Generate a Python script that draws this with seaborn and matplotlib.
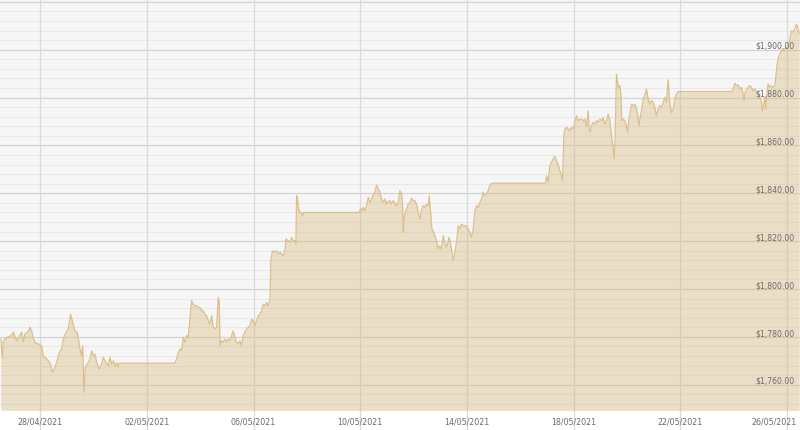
import numpy as np
import pandas as pd
import matplotlib
matplotlib.use("Agg")
import matplotlib.pyplot as plt
import seaborn as sns
from matplotlib.transforms import offset_copy

# ---- data: hours since 2021-04-26 00:00 and gold price (USD/oz) ----
hours = [
    12.6, 13.8, 14.7, 16.2, 18.9, 22.5, 23.7, 26.7, 28.8, 31.2, 32.7, 34.2, 37.2, 38.7, 40.2, 41.7,
    43.2, 47.7, 49.2, 50.7, 53.7, 56.7, 58.8, 60.3, 62.7, 65.1, 67.2, 68.7, 71.7, 73.2, 75.3, 77.1,
    79.2, 81.3, 83.7, 85.2, 86.1, 87.3, 88.5, 90.3, 92.7, 94.2, 95.7, 97.2, 98.7, 101.1, 103.2, 104.7,
    107.1, 109.2, 110.7, 112.2, 113.7, 115.2, 116.7, 117.9, 119.1, 169.2,
    170.7, 172.2, 173.7, 175.2, 176.7, 178.2, 179.7, 181.2, 182.7, 184.2, 185.7, 187.2, 188.7, 190.2,
    191.7, 193.2, 194.7, 196.2, 197.7, 199.2, 200.7, 202.2, 203.7, 205.2, 206.7, 208.2, 209.1, 209.7,
    211.2, 212.7, 214.2, 215.7, 217.2, 218.7, 220.2, 221.7, 223.2, 224.7, 226.2, 227.7, 229.2, 230.7,
    232.2, 233.7, 235.2, 236.7, 238.2, 239.7, 241.2, 242.7, 244.2, 245.7, 247.2, 248.7, 250.2, 251.7,
    253.2, 254.7, 255.6, 257.1, 259.2, 260.7, 262.2, 263.7, 265.2, 266.7, 268.2, 269.1, 271.2, 272.7,
    274.2, 275.7, 277.2, 278.1, 278.7, 279.6, 280.5, 281.7, 283.2, 284.1, 285.3, 334.2,
    335.1, 336.3, 337.5, 338.7, 340.2, 341.7, 343.2, 344.7, 346.2, 347.7, 349.2, 350.7, 352.2, 353.7,
    355.2, 356.7, 358.2, 359.7, 361.2, 362.7, 364.2, 365.7, 367.2, 368.7, 370.2, 371.7, 373.2, 374.1,
    374.7, 375.6, 376.5, 377.7, 379.2, 380.7, 382.2, 383.7, 385.2, 386.7, 388.2, 389.7, 391.2, 392.7,
    394.2, 395.7, 397.2, 398.1, 399.3, 400.5, 401.7, 403.2, 404.7, 406.2, 407.7, 409.2, 410.7, 412.2,
    413.7, 416.1, 418.2, 419.7, 421.2, 422.7, 424.2, 425.7, 427.2, 428.7, 431.7, 434.7, 436.2, 437.7,
    439.2, 440.7, 442.2, 443.7, 445.2, 446.7, 448.2, 449.7, 451.2, 452.7, 454.2, 502.7,
    503.7, 505.2, 506.7, 508.2, 509.7, 511.2, 512.7, 514.2, 515.7, 517.2, 518.1, 519.3, 520.2, 521.7,
    523.2, 524.7, 526.2, 527.7, 529.2, 530.7, 532.2, 533.7, 535.2, 536.7, 538.2, 539.7, 541.2, 542.1,
    543.3, 544.2, 545.7, 547.2, 548.7, 550.2, 551.7, 553.2, 554.7, 556.2, 557.7, 559.2, 560.7, 562.2,
    563.7, 564.6, 565.5, 566.7, 567.6, 568.5, 569.7, 570.6, 571.5, 572.7, 574.2, 575.7, 576.6, 577.8,
    578.7, 580.2, 581.7, 583.2, 584.7, 586.2, 587.1, 588.3, 589.5, 590.7, 592.2, 593.7, 595.2, 596.7,
    598.2, 599.7, 601.2, 602.7, 604.2, 605.7, 607.2, 608.7, 610.2, 611.7, 613.2, 614.7, 616.2, 617.7,
    619.2, 620.7, 622.2, 671.0,
    673.2, 674.7, 676.2, 677.7, 679.2, 680.7, 681.6, 682.5, 683.7, 685.2, 686.7, 688.2, 689.7, 691.2,
    692.7, 694.2, 695.7, 697.2, 698.1, 699.3, 700.2, 701.1, 702.3, 703.2, 704.7, 706.2, 707.7, 709.2,
    710.1, 711.3, 712.5, 713.7, 715.2, 716.7, 718.2, 719.7, 721.2, 722.7, 724.2, 725.7, 727.2, 728.7,
    730.2, 731.1,
]
prices = [
    1779.1, 1771.1, 1777.8, 1779.1, 1779.9, 1780.8, 1782.0, 1778.4, 1779.9, 1782.0, 1778.0, 1781.2, 1782.1, 1784.0, 1782.5, 1779.5,
    1777.7, 1776.7, 1776.3, 1772.1, 1770.7, 1769.3, 1765.2, 1766.5, 1769.3, 1773.5, 1774.9, 1779.1, 1782.5, 1783.3, 1789.5, 1786.1,
    1782.5, 1781.9, 1774.9, 1772.1, 1776.3, 1756.8, 1767.3, 1768.6, 1770.7, 1774.2, 1772.1, 1772.8, 1769.3, 1766.5, 1768.6, 1771.4,
    1769.3, 1767.9, 1771.4, 1768.6, 1770.0, 1767.9, 1769.3, 1767.4, 1769.0, 1769.0,
    1770.7, 1773.5, 1774.9, 1774.2, 1779.8, 1777.7, 1780.5, 1779.8, 1787.4, 1795.1, 1793.7, 1793.0, 1793.0, 1792.3,
    1792.3, 1790.9, 1790.9, 1789.5, 1788.8, 1786.7, 1785.3, 1788.8, 1784.0, 1783.3, 1784.0, 1796.5, 1794.4, 1776.3,
    1778.4, 1777.7, 1779.1, 1777.7, 1779.1, 1778.4, 1780.5, 1782.5, 1779.8, 1777.7, 1777.0, 1778.4, 1776.3, 1780.5,
    1781.9, 1783.3, 1784.0, 1784.6, 1787.4, 1786.7, 1784.6, 1786.7, 1788.8, 1789.5, 1790.9, 1793.7, 1793.0, 1794.4,
    1793.0, 1795.1, 1812.5, 1816.0, 1815.3, 1816.0, 1814.6, 1815.3, 1814.6, 1813.9, 1816.0, 1820.9, 1820.2, 1819.5,
    1821.6, 1820.2, 1820.2, 1818.8, 1839.0, 1837.6, 1833.4, 1832.0, 1832.0, 1830.6, 1832.0, 1832.0,
    1832.0, 1833.7, 1832.7, 1834.1, 1832.7, 1834.8, 1838.3, 1836.2, 1837.6, 1839.7, 1840.4, 1843.5, 1841.8, 1840.4,
    1837.6, 1836.2, 1837.6, 1835.5, 1836.5, 1836.9, 1835.5, 1836.9, 1836.2, 1834.8, 1836.2, 1841.1, 1839.7, 1834.8,
    1823.7, 1829.9, 1832.0, 1833.4, 1835.5, 1836.2, 1837.9, 1836.9, 1836.9, 1835.5, 1832.0, 1829.2, 1833.4, 1834.8,
    1834.1, 1835.5, 1834.8, 1839.0, 1832.7, 1825.1, 1824.3, 1822.3, 1820.2, 1816.7, 1818.1, 1816.7, 1822.3, 1819.5,
    1817.4, 1821.6, 1816.7, 1811.8, 1815.3, 1819.5, 1826.4, 1825.1, 1827.1, 1826.4, 1826.4, 1823.7, 1821.6, 1825.1,
    1832.7, 1834.8, 1834.1, 1836.2, 1837.6, 1840.4, 1839.0, 1839.7, 1841.1, 1843.2, 1844.2, 1844.2,
    1847.3, 1844.6, 1851.5, 1852.9, 1854.3, 1855.4, 1853.6, 1852.2, 1849.4, 1847.3, 1845.2, 1864.1, 1866.9, 1867.6,
    1866.9, 1866.1, 1867.6, 1866.9, 1869.7, 1872.4, 1870.3, 1871.0, 1871.0, 1870.3, 1871.0, 1868.2, 1874.5, 1866.9,
    1865.5, 1868.2, 1869.7, 1868.9, 1870.3, 1869.7, 1871.0, 1870.3, 1871.7, 1868.9, 1870.3, 1873.1, 1870.3, 1864.1,
    1858.5, 1854.3, 1864.1, 1889.8, 1886.4, 1884.3, 1885.0, 1881.5, 1870.3, 1871.0, 1870.3, 1868.2, 1865.5, 1871.0,
    1873.1, 1877.3, 1876.6, 1877.3, 1875.2, 1871.7, 1868.2, 1872.4, 1875.2, 1879.4, 1880.8, 1883.6, 1879.4, 1877.3,
    1878.7, 1878.0, 1875.9, 1872.4, 1875.2, 1876.6, 1875.9, 1878.0, 1880.1, 1878.0, 1887.5, 1878.0, 1873.8, 1875.2,
    1879.4, 1881.5, 1882.5, 1882.5,
    1886.0, 1885.0, 1885.4, 1883.6, 1884.3, 1881.5, 1878.7, 1882.2, 1883.2, 1884.5, 1885.0, 1884.3, 1882.9, 1883.6,
    1882.2, 1881.5, 1880.1, 1878.0, 1874.5, 1877.3, 1880.1, 1875.2, 1882.9, 1885.7, 1884.3, 1885.0, 1884.3, 1885.0,
    1888.5, 1894.0, 1896.8, 1898.2, 1899.6, 1900.3, 1900.3, 1901.0, 1901.7, 1904.5, 1907.9, 1907.3, 1908.7, 1910.7,
    1908.7, 1906.6,
]
x_tick_dates = ["2021-04-28", "2021-05-02", "2021-05-06", "2021-05-10",
                "2021-05-14", "2021-05-18", "2021-05-22", "2021-05-26"]
x_tick_labels = ["28/04/2021", "02/05/2021", "06/05/2021", "10/05/2021",
                 "14/05/2021", "18/05/2021", "22/05/2021", "26/05/2021"]
y_label_values = [1760, 1780, 1800, 1820, 1840, 1860, 1880, 1900]

# ---- build frame ----
base = pd.Timestamp("2021-04-26 00:00")
df = pd.DataFrame({"time": base + pd.to_timedelta(hours, unit="h"), "price": prices})

sns.set_theme(style="white")
plt.rcParams["font.family"] = ["DejaVu Sans"]

W, H = 800, 431
fig = plt.figure(figsize=(W / 100, H / 100), dpi=100)
fig.patch.set_facecolor("white")
plot_h = 410.7
ax = fig.add_axes([0, (H - plot_h) / H, 1, plot_h / H])
ax.set_facecolor("#f6f6f6")

y_lo, y_hi = 1749.55, 1921.2
x_lo = base + pd.Timedelta(hours=11.72)
x_hi = base + pd.Timedelta(hours=731.9)

# horizontal grid (minor every $4, major every $20)
for v in np.arange(1752, 1924, 4):
    major = (v % 20 == 0)
    ax.axhline(v, color="#d4d4d4" if major else "#e9e9e9",
               lw=0.9 if major else 0.8, zorder=0.5)

# vertical grid at date ticks, extending below plot
ext = (H - plot_h) / plot_h
for d in x_tick_dates:
    ax.axvline(pd.Timestamp(d), ymin=-ext, ymax=1, color="#dadada", lw=0.9,
               zorder=0.6, clip_on=False)

# area + line
ax.fill_between(df["time"], df["price"], y_lo - 10, color="#d8b472",
                alpha=0.36, lw=0, zorder=2)
sns.lineplot(data=df, x="time", y="price", ax=ax, color="#dcc08a",
             lw=0.9, estimator=None, zorder=3)

ax.set_xlim(x_lo, x_hi)
ax.set_ylim(y_lo, y_hi)
ax.set_xticks([])
ax.set_yticks([])
ax.set_xlabel("")
ax.set_ylabel("")
for s in ax.spines.values():
    s.set_visible(False)

# y labels inside plot on the right
ytrans = offset_copy(ax.get_yaxis_transform(), fig=fig, x=0, y=1.8, units="dots")
for v in y_label_values:
    ax.text(795 / 800, v, f"${v:,.2f}", transform=ytrans, ha="right",
            va="baseline", fontsize=5.6, color="#6a6a6a", zorder=5)

# date labels below plot (last one kept inside the figure edge)
xtrans = ax.get_xaxis_transform()
for i, (d, lab) in enumerate(zip(x_tick_dates, x_tick_labels)):
    if i == len(x_tick_dates) - 1:
        ax.text(797 / 800, -11 / plot_h, lab, transform=ax.transAxes, ha="right",
                va="center", fontsize=5.7, color="#6a6a6a", clip_on=False, zorder=5)
    else:
        ax.text(pd.Timestamp(d), -11 / plot_h, lab, transform=xtrans, ha="center",
                va="center", fontsize=5.7, color="#6a6a6a", clip_on=False, zorder=5)

fig.savefig("out.png", dpi=100, facecolor="white")
